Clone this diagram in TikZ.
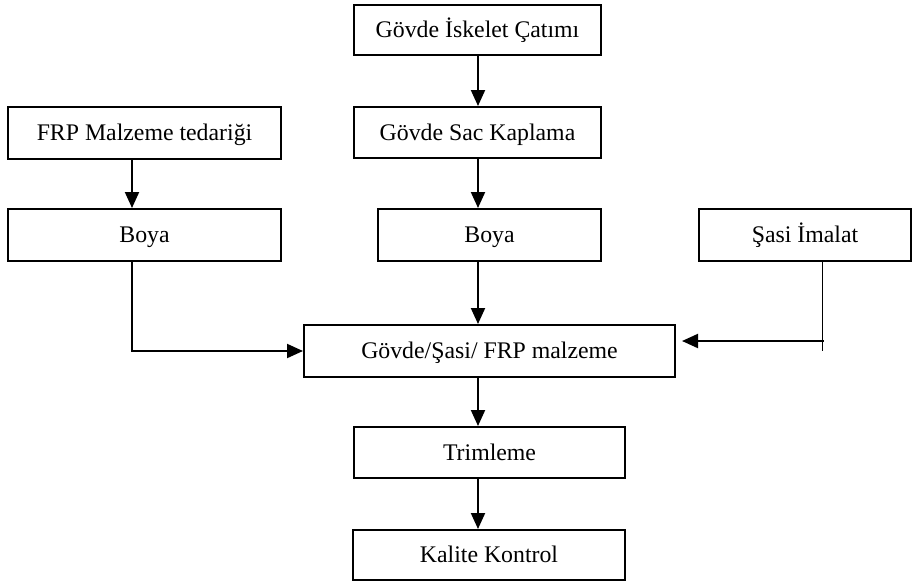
\documentclass[tikz,border=0pt]{standalone}
\usepackage{fontspec}
\setmainfont{Liberation Serif}
\usetikzlibrary{arrows.meta}
\begin{document}
\begin{tikzpicture}[x=1pt,y=-1pt,
  stepbox/.style={draw, line width=2pt, rectangle, inner sep=0pt,
    font=\fontsize{23.8}{28}\selectfont, text height=15.7pt, text depth=0pt},
  flow/.style={line width=2pt, -{Triangle[length=16pt,width=14pt]}},
  plain/.style={line width=1.4pt}]
  \useasboundingbox (0,0) rectangle (913,582);

  % process boxes
  \node[stepbox, minimum width=247pt, minimum height=50pt] (cat)   at (477.5,30)  {Gövde İskelet Çatımı};
  \node[stepbox, minimum width=247pt, minimum height=51pt] (sac)   at (477.5,132.5) {Gövde Sac Kaplama};
  \node[stepbox, minimum width=273pt, minimum height=52pt] (frp)   at (144.5,133) {FRP Malzeme tedariği};
  \node[stepbox, minimum width=273pt, minimum height=52pt] (boyaL) at (144.5,235) {Boya};
  \node[stepbox, minimum width=223pt, minimum height=52pt] (boyaM) at (489.5,235) {Boya};
  \node[stepbox, minimum width=212pt, minimum height=52pt] (sasi)  at (805,235) {Şasi İmalat};
  \node[stepbox, minimum width=371pt, minimum height=52pt] (govde) at (489.5,351) {Gövde/Şasi/ FRP malzeme};
  \node[stepbox, minimum width=271pt, minimum height=51pt] (trim)  at (489.5,452.5) {Trimleme};
  \node[stepbox, minimum width=272pt, minimum height=50pt] (kal)   at (489,555) {Kalite Kontrol};

  % connector guide lines
  \coordinate (mx) at (478,0);
  \coordinate (lx) at (132,0);
  \coordinate (rx) at (822.5,0);
  \coordinate (rend) at (822.5,351);
  \coordinate (rjoin) at (823.5,341);
  \coordinate (rtip) at (682,341);

  % main column
  \draw[flow] (mx |- cat.south) -- (mx |- sac.north);
  \draw[flow] (mx |- sac.south) -- (mx |- boyaM.north);
  \draw[flow] (mx |- boyaM.south) -- (mx |- govde.north);
  \draw[flow] (mx |- govde.south) -- (mx |- trim.north);
  \draw[flow] (mx |- trim.south) -- (mx |- kal.north);

  % left branch
  \draw[flow] (lx |- frp.south) -- (lx |- boyaL.north);
  \draw[flow] (lx |- boyaL.south) |- (govde.west);

  % right branch
  \draw[plain] (rx |- sasi.south) -- (rend);
  \draw[flow] (rjoin) -- (rtip);
\end{tikzpicture}
\end{document}
